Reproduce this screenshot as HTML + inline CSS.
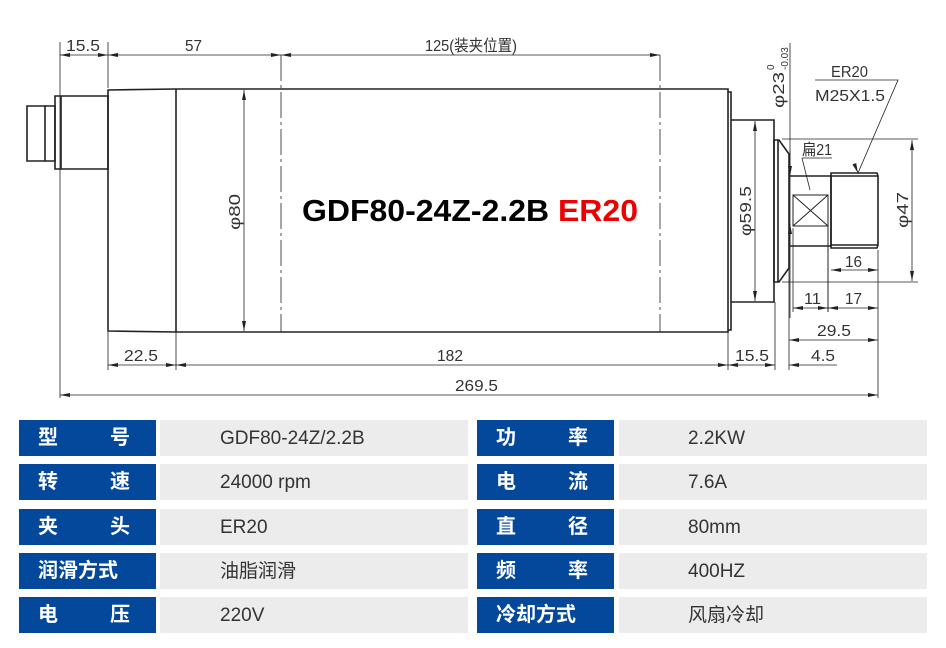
<!DOCTYPE html>
<html><head><meta charset="utf-8"><style>
body{margin:0;background:#fff;width:946px;height:648px;overflow:hidden;position:relative;font-family:"Liberation Sans","Noto Sans CJK SC",sans-serif}
.l{position:absolute;width:137px;height:36px;background:#04489c;color:#fff;font-weight:bold;font-size:20px;line-height:36px;box-sizing:border-box;padding-left:19px}
.l span.a{position:absolute;left:19px}.l span.b{position:absolute;left:91px}
.v{position:absolute;width:308px;height:36px;background:#ececec;color:#333;font-size:19px;line-height:38px;box-sizing:border-box;padding-left:60px}
svg text{font-family:"Liberation Sans","Noto Sans CJK SC",sans-serif}
</style></head><body>
<svg width="946" height="410" style="position:absolute;left:0;top:0" stroke="#222" fill="none" stroke-width="1">
<defs><marker id="a" viewBox="0 0 10 4" refX="10" refY="2" markerWidth="10" markerHeight="4" orient="auto-start-reverse" markerUnits="userSpaceOnUse"><path d="M0,0L10,2L0,4z" fill="#222" stroke="none"/></marker></defs>
<g stroke-width="1.6">
<path d="M27,106H45V161H27Z"/><path d="M45,106H55V161H45"/>
<path d="M55,96H108V169H55Z"/><path d="M61,96V169"/>
<path d="M108,90L176,89H728V332H176L108,331Z"/><path d="M176,89V332"/>
<path d="M728,92H731V330H728"/>
<path d="M731,120H774V302H731"/>
<path d="M774,140H779L789,154V268L779,282H774Z"/><path d="M778,140V282"/>
<path d="M789,176H831V246H789"/>
<path d="M831,173H877L878,176V245L877,248H831Z"/><path d="M831,176H878M831,245H878"/>
</g>
<path d="M793,195H828V226H793ZM793,195L828,226M828,195L793,226"/>
<path d="M828,226V312"/>
<g stroke-width="0.8" stroke-dasharray="26,4,3,4"><path d="M281,55V332M660,55V332"/></g>
<g stroke-width="0.8">
<path d="M60,42V398M108,42V88M728,330V370M775,302V370M789,250V370M878,250V398M108,332V370M176,332V370"/>
<path d="M60,55H108" marker-start="url(#a)" marker-end="url(#a)"/>
<path d="M108,55H281" marker-start="url(#a)" marker-end="url(#a)"/>
<path d="M281,55H660" marker-start="url(#a)" marker-end="url(#a)"/>
<path d="M244,90V331" marker-start="url(#a)" marker-end="url(#a)"/>
<path d="M755,121V301" marker-start="url(#a)" marker-end="url(#a)"/>
<path d="M912,140V281" marker-start="url(#a)" marker-end="url(#a)"/>
<path d="M782,139H918M782,282H918"/>
<path d="M790,43V318"/>
<path d="M790,150V176" marker-end="url(#a)"/><path d="M790,246V224" marker-end="url(#a)"/>
<path d="M831,270H878" marker-start="url(#a)" marker-end="url(#a)"/>
<path d="M793,308H828" marker-start="url(#a)" marker-end="url(#a)"/>
<path d="M828,308H878" marker-start="url(#a)" marker-end="url(#a)"/>
<path d="M793,228V312"/>
<path d="M789,340H878" marker-start="url(#a)" marker-end="url(#a)"/>
<path d="M108,365H176" marker-start="url(#a)" marker-end="url(#a)"/>
<path d="M176,365H728" marker-start="url(#a)" marker-end="url(#a)"/>
<path d="M728,365H775" marker-start="url(#a)" marker-end="url(#a)"/>
<path d="M789,365H837" marker-start="url(#a)"/>
<path d="M60,395H878" marker-start="url(#a)" marker-end="url(#a)"/>
<path d="M815,80H898L858,173" /><path d="M856,168L858,173" marker-end="url(#a)"/>
<path d="M802,158H832M802,158L810,190"/>
</g>
<g fill="#333" stroke="none" font-size="16">
<text x="66" y="51" textLength="34" lengthAdjust="spacingAndGlyphs">15.5</text><text x="185" y="51" textLength="17" lengthAdjust="spacingAndGlyphs">57</text>
<text x="425" y="51" textLength="92" lengthAdjust="spacingAndGlyphs">125(装夹位置)</text>
<text x="124" y="361" textLength="34" lengthAdjust="spacingAndGlyphs">22.5</text><text x="437" y="361" textLength="26" lengthAdjust="spacingAndGlyphs">182</text>
<text x="735" y="361" textLength="34" lengthAdjust="spacingAndGlyphs">15.5</text><text x="811" y="361" textLength="24" lengthAdjust="spacingAndGlyphs">4.5</text>
<text x="455" y="391" textLength="43" lengthAdjust="spacingAndGlyphs">269.5</text>
<text x="845" y="267" textLength="17" lengthAdjust="spacingAndGlyphs">16</text><text x="804" y="304" textLength="17" lengthAdjust="spacingAndGlyphs">11</text><text x="845" y="304" textLength="17" lengthAdjust="spacingAndGlyphs">17</text>
<text x="817" y="336" textLength="34" lengthAdjust="spacingAndGlyphs">29.5</text>
<text x="831" y="77" textLength="37" lengthAdjust="spacingAndGlyphs">ER20</text><text x="815" y="101" textLength="70" lengthAdjust="spacingAndGlyphs">M25X1.5</text>
<text x="802" y="155" textLength="30" lengthAdjust="spacingAndGlyphs">扁21</text>
<text transform="translate(240,230) rotate(-90)" textLength="36" lengthAdjust="spacingAndGlyphs">φ80</text>
<text transform="translate(751,236) rotate(-90)" textLength="50" lengthAdjust="spacingAndGlyphs">φ59.5</text>
<text transform="translate(908,228) rotate(-90)" textLength="36" lengthAdjust="spacingAndGlyphs">φ47</text>
<text transform="translate(784,108) rotate(-90)" textLength="36" lengthAdjust="spacingAndGlyphs">φ23</text>
<text transform="translate(774,70) rotate(-90)" font-size="10">0</text>
<text transform="translate(788,70) rotate(-90)" font-size="10">-0.03</text>
</g>
<text x="302" y="221" font-size="31" font-weight="bold" fill="#000" stroke="none" textLength="336" lengthAdjust="spacingAndGlyphs">GDF80-24Z-2.2B <tspan fill="#e00">ER20</tspan></text>
</svg>

<div class="l" style="left:19px;top:420px"><span class="a">型</span><span class="b">号</span></div>
<div class="v" style="left:160px;top:420px">GDF80-24Z/2.2B</div>
<div class="l" style="left:19px;top:464px"><span class="a">转</span><span class="b">速</span></div>
<div class="v" style="left:160px;top:464px">24000 rpm</div>
<div class="l" style="left:19px;top:509px"><span class="a">夹</span><span class="b">头</span></div>
<div class="v" style="left:160px;top:509px">ER20</div>
<div class="l" style="left:19px;top:553px">润滑方式</div>
<div class="v" style="left:160px;top:553px">油脂润滑</div>
<div class="l" style="left:19px;top:597px"><span class="a">电</span><span class="b">压</span></div>
<div class="v" style="left:160px;top:597px">220V</div>

<div class="l" style="left:477px;top:420px"><span class="a">功</span><span class="b">率</span></div>
<div class="v" style="left:619px;top:420px;padding-left:69px">2.2KW</div>
<div class="l" style="left:477px;top:464px"><span class="a">电</span><span class="b">流</span></div>
<div class="v" style="left:619px;top:464px;padding-left:69px">7.6A</div>
<div class="l" style="left:477px;top:509px"><span class="a">直</span><span class="b">径</span></div>
<div class="v" style="left:619px;top:509px;padding-left:69px">80mm</div>
<div class="l" style="left:477px;top:553px"><span class="a">频</span><span class="b">率</span></div>
<div class="v" style="left:619px;top:553px;padding-left:69px">400HZ</div>
<div class="l" style="left:477px;top:597px">冷却方式</div>
<div class="v" style="left:619px;top:597px;padding-left:69px">风扇冷却</div>
</body></html>
